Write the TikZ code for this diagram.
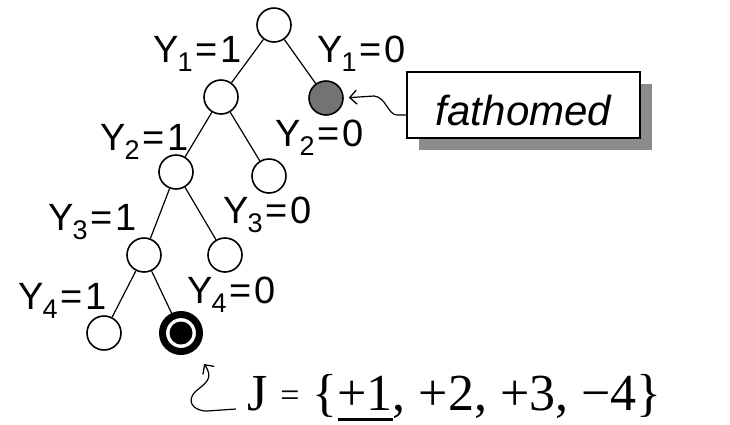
\documentclass[tikz,border=0pt]{standalone}
\usepackage{fontspec}
\setmainfont{Liberation Serif}
\newfontfamily\lblfont{Liberation Sans}
\usetikzlibrary{arrows.meta,shadows}
\newcommand\ylab[2]{Y\kern-1pt\raisebox{-9pt}{\fontsize{27}{27}\selectfont #1}\kern3pt=\kern3pt#2}
\newcommand\thickul[1]{\setbox0\hbox{#1}\rlap{\rule[-11pt]{\wd0}{3pt}}\box0}
\begin{document}
\begin{tikzpicture}[x=1pt,y=-1pt,
  tnode/.style={circle,draw,line width=1.6pt,minimum size=34pt,inner sep=0pt,fill=white},
  edge/.style={line width=1.2pt},
  ylabel/.style={font=\lblfont\fontsize{38}{38}\selectfont,anchor=base west,inner sep=0pt},
  barb/.style={-{Straight Barb[length=7pt,width=14pt,line width=1.3pt]}},
]
\useasboundingbox (0,0) rectangle (730,424);
% tree nodes
\node[tnode] (r) at (274,25) {};
\node[tnode] (a) at (221,97) {};
\node[tnode,fill=black!55] (f) at (326,98) {};
\node[tnode] (b) at (176,172) {};
\node[tnode] (c) at (269,176) {};
\node[tnode] (d) at (144,255) {};
\node[tnode] (e) at (225,255) {};
\node[tnode] (g) at (104,333) {};
\node[circle,draw,line width=7pt,minimum size=37pt,inner sep=0pt,fill=white] (t) at (181,333) {};
\fill (t.center) circle (11.5pt);
% edges
\draw[edge] (r) -- (a);
\draw[edge] (r) -- (f);
\draw[edge] (a) -- (b);
\draw[edge] (a) -- (c);
\draw[edge] (b) -- (d);
\draw[edge] (b) -- (e);
\draw[edge] (d) -- (g);
\draw[edge] (d) -- (t);
% labels
\node[ylabel] (l1a) at (153,62) {\ylab{1}{1}};
\node[ylabel] (l1b) at (317,62) {\ylab{1}{0}};
\node[ylabel] (l2a) at (100,150) {\ylab{2}{1}};
\node[ylabel] (l2b) at (275,146) {\ylab{2}{0}};
\node[ylabel] (l3a) at (48,230) {\ylab{3}{1}};
\node[ylabel] (l3b) at (223,223) {\ylab{3}{0}};
\node[ylabel] (l4a) at (18,309) {\ylab{4}{1}};
\node[ylabel] (l4b) at (187,303) {\ylab{4}{0}};
% fathomed box
\node[draw,line width=1.6pt,fill=white,minimum width=233pt,minimum height=66pt,inner sep=0pt,
  text height=40pt,text depth=0pt,
  font=\lblfont\itshape\fontsize{42}{42}\selectfont,
  drop shadow={shadow xshift=12pt,shadow yshift=-12pt,fill=black!45,opacity=1}] (box) at (523.5,105) {fathomed};
\coordinate (k1) at (374,96);
\draw[edge,barb,shorten >=5pt] (box.west |- 0,115) -- (397,115) .. controls (388,115) and (386,97) .. (k1) -- (f.east);
% bottom text
\node[anchor=base west,inner sep=0pt,font=\fontsize{52}{52}\selectfont] (J) at (247,410)
  {J \raisebox{4pt}{\fontsize{34}{34}\selectfont=} \{\thickul{+1}, +2, +3, −4\}};
\coordinate (jend) at (236,409);
\coordinate (tip) at (204,364);
\draw[edge,barb] (jend) -- (207,411) .. controls (192,411) and (186,400) .. (196,391) .. controls (206,383) and (214,378) .. (tip);
\end{tikzpicture}
\end{document}
